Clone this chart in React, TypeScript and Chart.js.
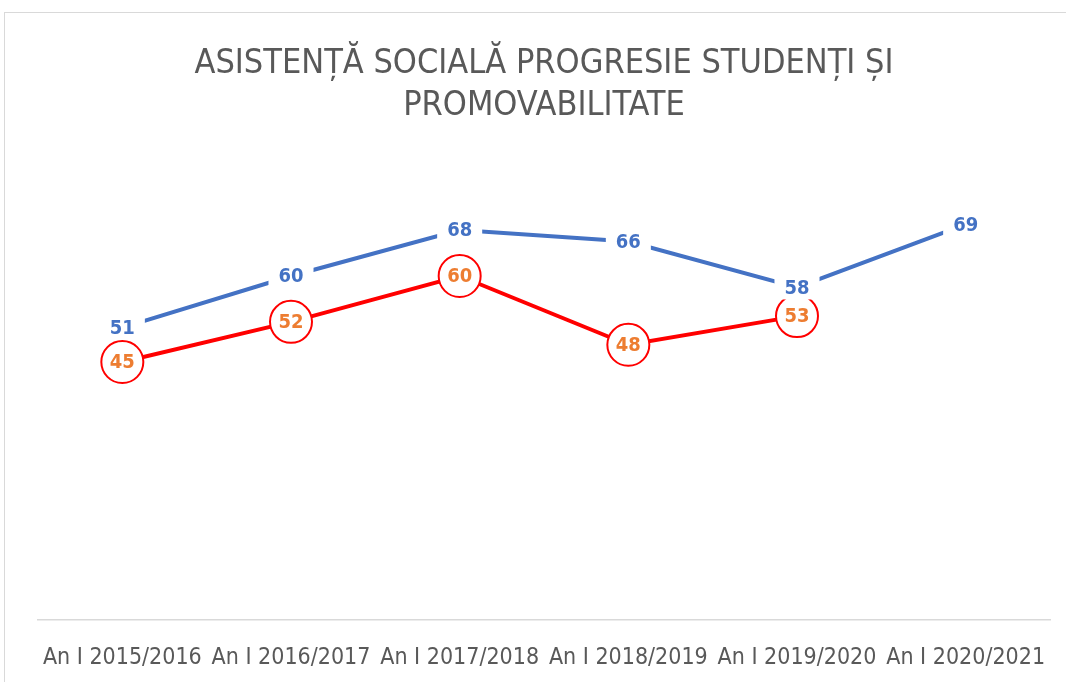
import React, { useEffect, useRef } from "react";
import { Chart, registerables } from "chart.js";

Chart.register(...registerables);

const categories = [
  "An I 2015/2016",
  "An I 2016/2017",
  "An I 2017/2018",
  "An I 2018/2019",
  "An I 2019/2020",
  "An I 2020/2021",
];
const progresieStudenti = [51, 60, 68, 66, 58, 69];
const promovabilitate: (number | null)[] = [45, 52, 60, 48, 53, null];
const titleLines = ["ASISTENȚĂ SOCIALĂ PROGRESIE STUDENȚI ȘI", "PROMOVABILITATE"];

const FONT = "'Liberation Sans Narrow', 'DejaVu Sans Condensed', 'Open Sans', sans-serif";

const labelPlugin = {
  id: "valueLabels",
  afterDatasetsDraw(chart: any) {
    const ctx = chart.ctx;
    ctx.save();
    ctx.font = `bold 20px ${FONT}`;
    ctx.textAlign = "center";
    ctx.textBaseline = "middle";
    const redMeta = chart.getDatasetMeta(1);
    redMeta.data.forEach((pt: any, i: number) => {
      const v = promovabilitate[i];
      if (v == null) return;
      ctx.fillStyle = "#ED7D31";
      ctx.fillText(String(v), pt.x, pt.y + 1);
    });
    const blueMeta = chart.getDatasetMeta(0);
    blueMeta.data.forEach((pt: any, i: number) => {
      const t = String(progresieStudenti[i]);
      const w = ctx.measureText(t).width + 20;
      ctx.fillStyle = "#ffffff";
      ctx.fillRect(pt.x - w / 2, pt.y - 12, w, 24);
      ctx.fillStyle = "#4472C4";
      ctx.fillText(t, pt.x, pt.y + 1);
    });
    ctx.restore();
  },
};

export default function App() {
  const ref = useRef<HTMLCanvasElement | null>(null);
  useEffect(() => {
    if (!ref.current) return;
    const chart = new Chart(ref.current, {
      type: "line",
      data: {
        labels: categories,
        datasets: [
          {
            label: "Progresie studenți",
            data: progresieStudenti,
            borderColor: "#4472C4",
            borderWidth: 4,
            pointRadius: 0,
            pointHoverRadius: 0,
            fill: false,
            tension: 0,
            order: 1,
          },
          {
            label: "Promovabilitate",
            data: promovabilitate,
            borderColor: "#FF0000",
            borderWidth: 4,
            pointRadius: 21,
            pointBorderWidth: 2,
            pointBorderColor: "#FF0000",
            pointBackgroundColor: "#ffffff",
            fill: false,
            tension: 0,
            order: 0,
          },
        ],
      },
      options: {
        responsive: false,
        animation: false,
        layout: { autoPadding: false, padding: { left: 38, right: 16, top: 0, bottom: 11 } },
        plugins: {
          legend: { display: false },
          tooltip: { enabled: false },
          title: {
            display: true,
            text: titleLines,
            color: "#595959",
            font: { family: FONT, size: 34, weight: "normal" as any, lineHeight: 1.24 },
            padding: { top: 43, bottom: 34 },
          },
        },
        scales: {
          x: {
            offset: true,
            grid: { display: false, drawTicks: false },
            border: { display: true, color: "#d9d9d9", width: 1.5 },
            ticks: {
              color: "#595959",
              font: { family: FONT, size: 23, lineHeight: 3.35 },
              autoSkip: false,
              maxRotation: 0,
              minRotation: 0,
              padding: 0,
            },
            afterFit: (scale: any) => {
              scale.height = 51;
            },
          },
          y: {
            display: false,
            min: 0,
            max: 80,
          },
        },
      },
      plugins: [labelPlugin],
    });
    return () => chart.destroy();
  }, []);
  return (
    <div style={{ position: "fixed", left: 0, top: 0, width: 1066, height: 682, background: "#fff" }}>
      <div
        style={{
          position: "absolute",
          left: 4,
          top: 12,
          width: 1080,
          height: 700,
          border: "1px solid #d9d9d9",
          boxSizing: "border-box",
        }}
      />
      <canvas ref={ref} width={1066} height={682} style={{ position: "absolute", left: 0, top: 0 }} />
    </div>
  );
}
